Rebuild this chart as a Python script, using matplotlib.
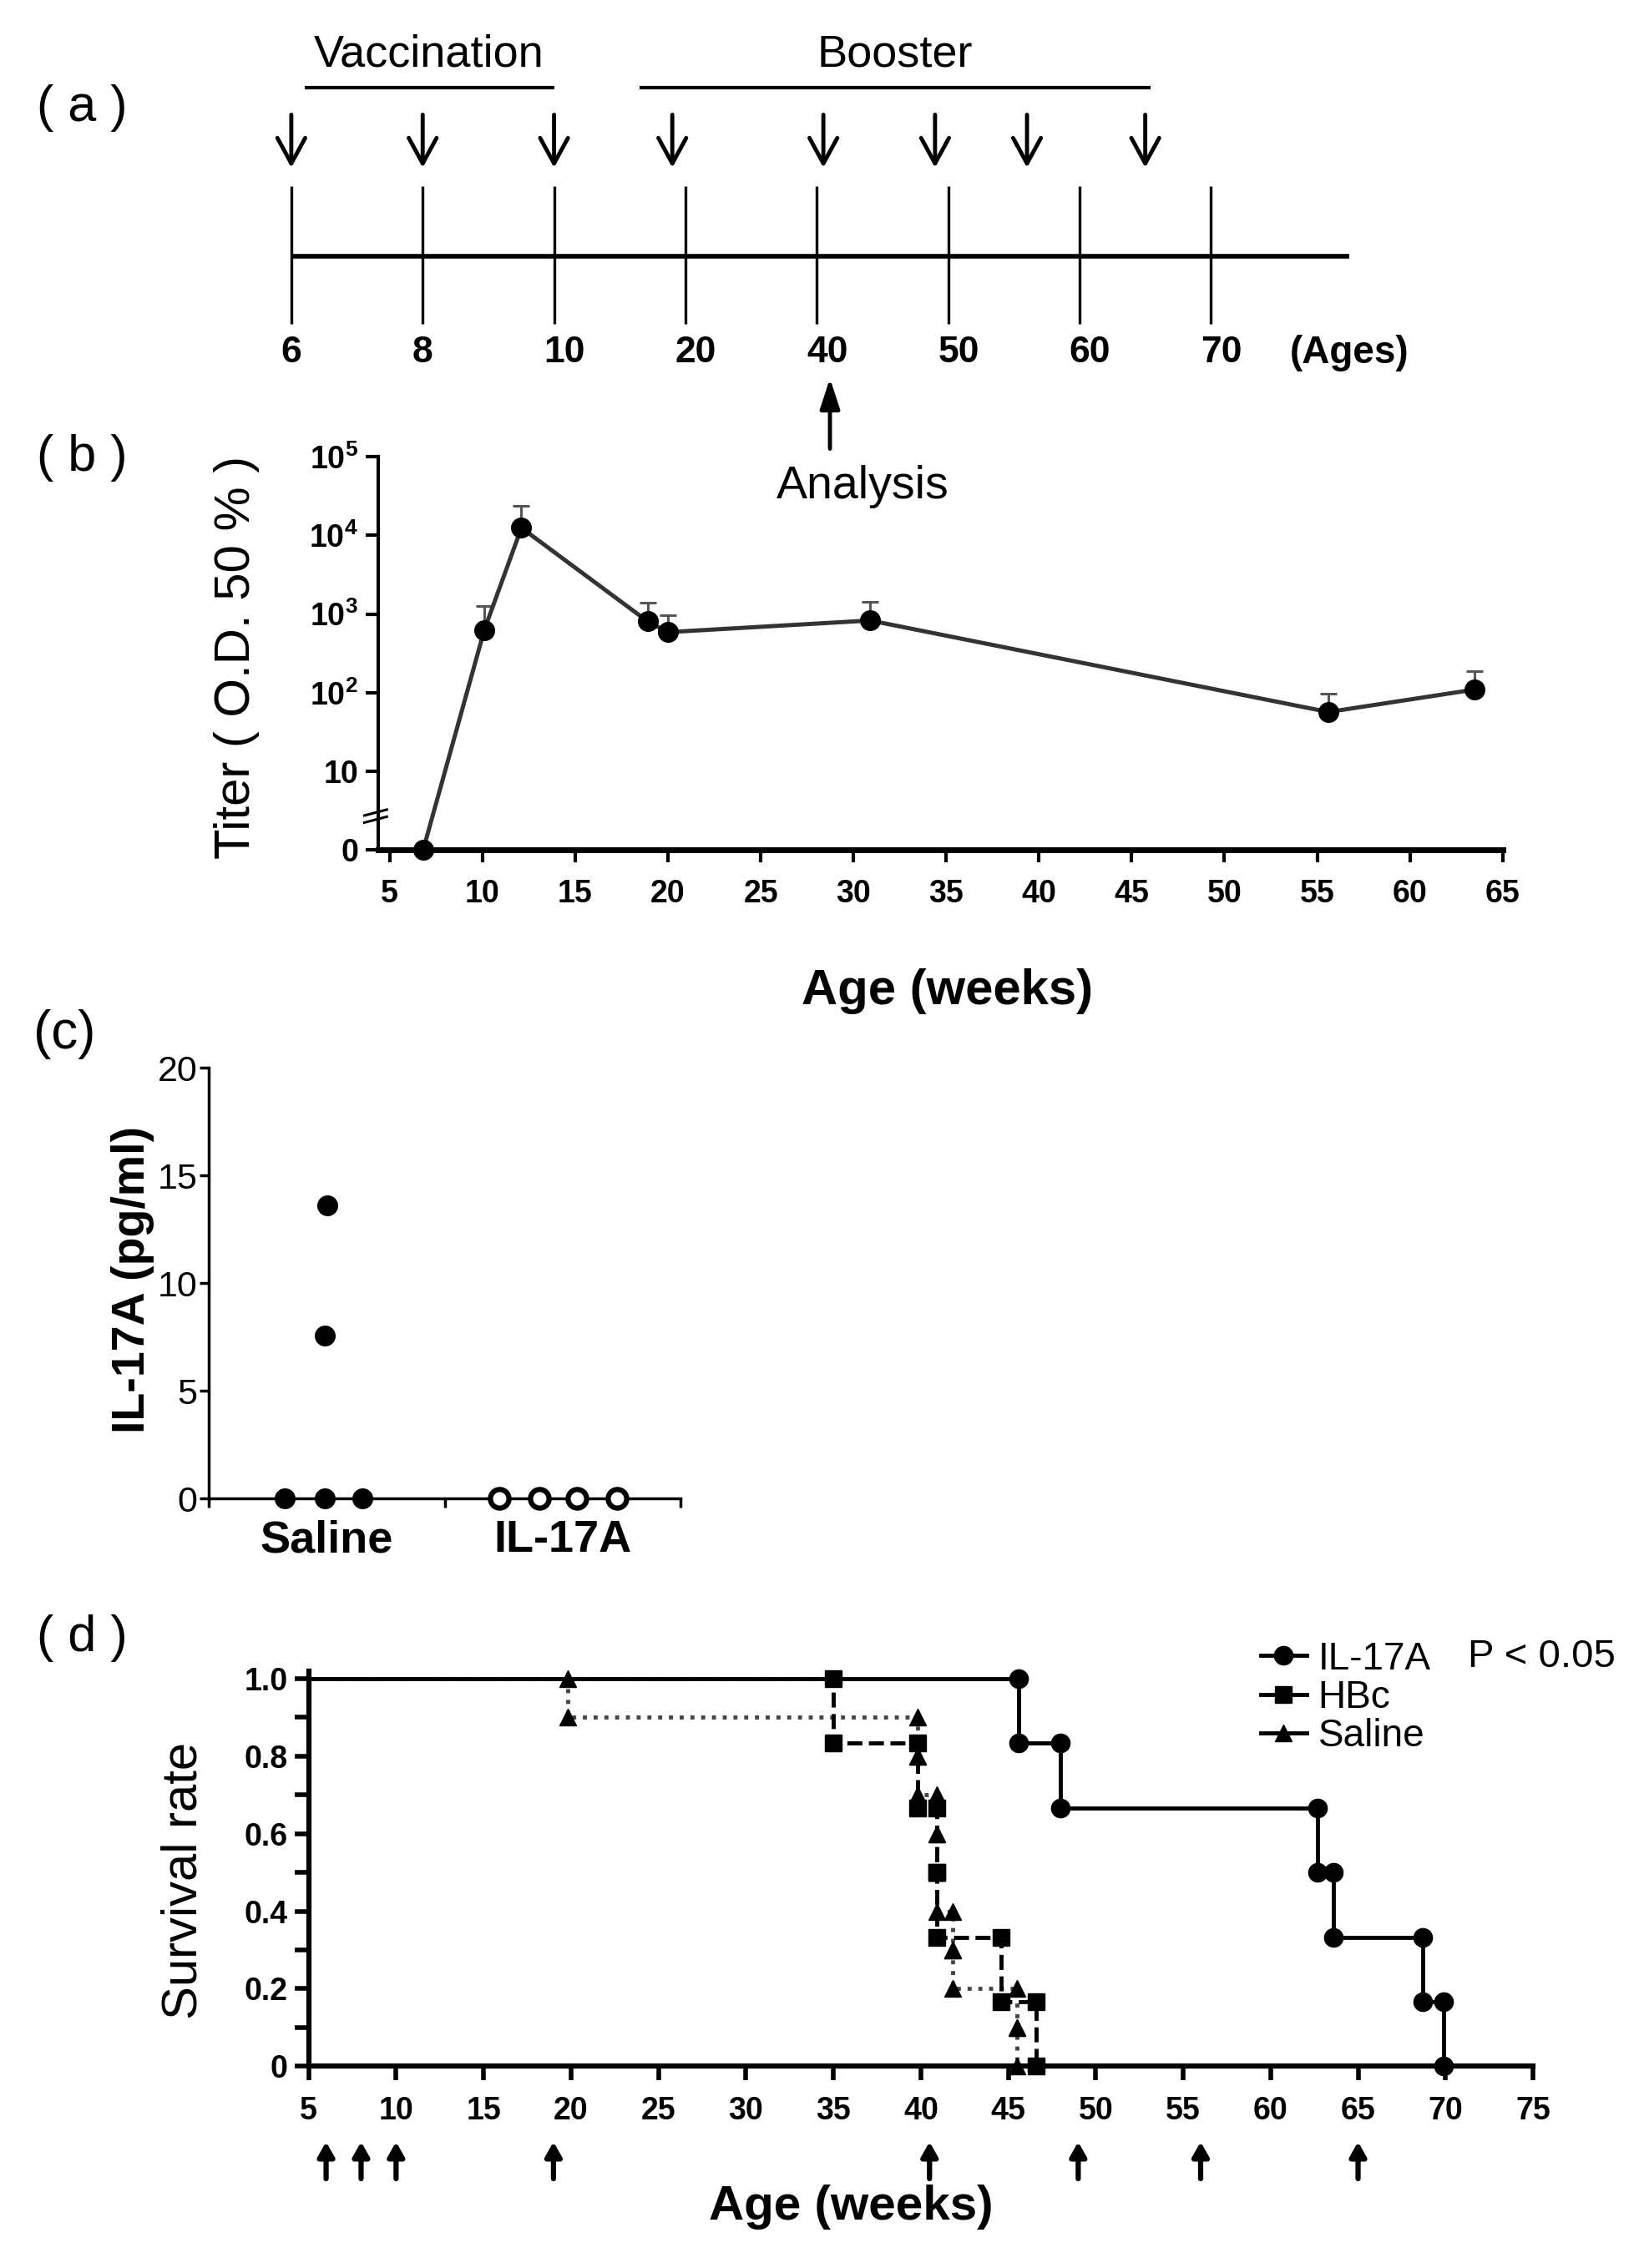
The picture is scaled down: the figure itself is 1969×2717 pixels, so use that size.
import numpy as np
import matplotlib.pyplot as plt
from matplotlib.lines import Line2D

plt.rcParams['font.family'] = ['Liberation Sans', 'DejaVu Sans']
plt.rcParams['mathtext.default'] = 'regular'

# (a) schedule (ages in weeks)
timeline_ages = [6, 8, 10, 20, 40, 50, 60, 70]
vaccination_ages = [6, 8, 10]
booster_ages = [19, 40.5, 49, 56, 65]
analysis_age = 41
vaccination_span = (6.2, 10)
booster_span = (16.5, 65.4)

# (b) antibody titer
titer_weeks = [6.8, 10.1, 12.1, 18.9, 20.0, 30.9, 55.6, 63.5]
titer_values = [1, 630, 12500, 810, 590, 830, 57, 110]
titer_upper = [1, 1260, 24000, 1400, 960, 1440, 98, 190]

# (c) IL-17A serum level
group_names = ['Saline', 'IL-17A']
saline_x = [0.32, 0.49, 0.65, 0.49, 0.50]
saline_y = [0, 0, 0, 7.55, 13.6]
il17_x = [1.23, 1.40, 1.56, 1.73]
il17_y = [0, 0, 0, 0]

# (d) survival, week of death for each mouse
death_il17a = [45.6, 48.0, 62.7, 63.6, 68.7, 69.9]
death_hbc = [35.0, 39.8, 40.9, 40.9, 44.6, 46.6]
death_saline = [19.8, 39.8, 39.8, 40.9, 40.9, 40.9, 41.8, 41.8, 45.5, 45.5]
treatment_weeks = [6, 8, 10, 19, 40.5, 49, 56, 65]

W, H = 1140.0, 1574.0  # layout measured on a reduced copy


def fbox(x0, y0, x1, y1):
    return [x0 / W, 1 - y1 / H, (x1 - x0) / W, (y1 - y0) / H]


def km_steps(deaths, start=5):
    n = len(deaths)
    xs, ys, mx, my = [start], [1.0], [], []
    alive = n
    for t in sorted(deaths):
        before = alive / n
        alive -= 1
        after = alive / n
        xs += [t, t]
        ys += [before, after]
        mx += [t, t]
        my += [before, after]
    return xs, ys, mx, my


fig = plt.figure(figsize=(19.69, 27.17), dpi=100)

for lab, x, y, fs in [('( a )', 57, 75, 44), ('( b )', 57, 318, 44),
                      ('(c)', 45, 718, 46), ('( d )', 57, 1137, 44)]:
    fig.text(x / W, 1 - y / H, lab, fontsize=fs, ha='center', va='center')

# ---------------- (a) ----------------
axa = fig.add_axes([0, 1 - 360 / H, 1, 360 / H])
axa.set_xlim(-202 / 91.1, (W - 202) / 91.1)
axa.set_ylim(360, 0)
axa.axis('off')
axa.set_zorder(5)
idx = np.arange(len(timeline_ages))


def pos(age):
    return np.interp(age, timeline_ages, idx)


axa.hlines(178, 0, len(timeline_ages) + 0.05, color='k', lw=4)
axa.vlines(idx, 129, 225, color='k', lw=2.4)
for i, a in zip(idx, timeline_ages):
    axa.text(i + (0.08 if a >= 10 else 0), 245, str(a), fontsize=32, fontweight='bold',
             ha='center', va='center')
axa.text(7.6, 245, '(Ages)', fontsize=33, fontweight='bold', ha='left', va='center')

for span, name in [(vaccination_span, 'Vaccination'), (booster_span, 'Booster')]:
    p0, p1 = pos(span[0]), pos(span[1])
    axa.hlines(61, p0, p1, color='k', lw=3)
    axa.text((p0 + p1) / 2, 38, name, fontsize=39, ha='center', va='center')

for a in vaccination_ages + booster_ages:
    axa.annotate('', xy=(pos(a), 118), xytext=(pos(a), 78),
                 arrowprops=dict(arrowstyle='->,head_length=0.55,head_width=0.3',
                                 lw=3.5, color='k', mutation_scale=40))
axa.annotate('', xy=(pos(analysis_age), 261), xytext=(pos(analysis_age), 313),
             arrowprops=dict(arrowstyle='-|>,head_length=0.55,head_width=0.18',
                             lw=3.5, color='k', mutation_scale=40))
axa.text(pos(analysis_age) + 0.25, 338, 'Analysis', fontsize=40, ha='center', va='center')

# ---------------- (b) ----------------
axb = fig.add_axes(fbox(262, 317, 1042, 590))
axb.set_facecolor('none')
axb.set_yscale('log')
axb.set_xlim(4.36, 65)
axb.set_ylim(1, 1e5)
yerr = np.array(titer_upper) - np.array(titer_values)
axb.errorbar(titer_weeks, titer_values, yerr=[np.zeros_like(yerr), yerr], fmt='none',
             ecolor='#555555', elinewidth=2.2, capsize=7, capthick=2.2, clip_on=False)
axb.plot(titer_weeks, titer_values, color='#333333', lw=3.6, marker='o', ms=17,
         mfc='k', mec='k', clip_on=False, zorder=3)
for s in ['top', 'right']:
    axb.spines[s].set_visible(False)
axb.spines['left'].set_linewidth(3)
axb.spines['bottom'].set_linewidth(5)
axb.set_xticks(np.arange(5, 66, 5))
axb.set_yticks([1, 10, 100, 1e3, 1e4, 1e5])
axb.set_yticklabels(['0', '10', '$10^2$', '$10^3$', '$10^4$', '$10^5$'])
axb.yaxis.set_minor_locator(plt.NullLocator())
axb.tick_params(axis='x', direction='out', length=11, width=3, pad=14, labelsize=27)
axb.tick_params(axis='y', direction='out', length=11, width=3, pad=6, labelsize=27)
for t in axb.get_xticklabels() + axb.get_yticklabels():
    t.set_fontweight('bold')
axb.set_ylabel('Titer ( O.D. 50 % )', fontsize=43)
axb.yaxis.set_label_coords(-0.105, 0.49)
axb.set_xlabel('Age (weeks)', fontsize=43, fontweight='bold')
axb.xaxis.set_label_coords(0.506, -0.3)
for dy in (0.0, 0.018):
    axb.plot([-0.012, 0.008], [0.07 + dy, 0.085 + dy], transform=axb.transAxes,
             color='k', lw=2.2, clip_on=False)

# ---------------- (c) ----------------
axc = fig.add_axes(fbox(145, 741, 472, 1040))
axc.set_facecolor('none')
axc.set_xlim(0, 2)
axc.set_ylim(0, 20)
axc.plot(saline_x, saline_y, 'o', color='k', ms=17, clip_on=False, zorder=3)
axc.plot(il17_x, il17_y, 'o', mfc='white', mec='k', mew=4.5, ms=16, clip_on=False, zorder=3)
for s in ['top', 'right']:
    axc.spines[s].set_visible(False)
for s in ['left', 'bottom']:
    axc.spines[s].set_linewidth(2.5)
axc.set_yticks([0, 5, 10, 15, 20])
axc.set_xticks([0.5, 1.5])
axc.set_xticklabels(group_names, fontsize=39, fontweight='bold')
axc.set_xticks([0, 1, 2], minor=True)
axc.tick_params(axis='x', which='major', length=0, pad=18)
axc.tick_params(axis='x', which='minor', direction='out', length=8, width=2.5)
axc.tick_params(axis='y', direction='out', length=8, width=2.5, pad=2, labelsize=31)
axc.set_ylabel('IL-17A (pg/ml)', fontsize=40, fontweight='bold')
axc.yaxis.set_label_coords(-0.115, 0.508)

# ---------------- (d) ----------------
axd = fig.add_axes(fbox(214, 1159.6, 1063, 1434))
axd.set_facecolor('none')
axd.set_xlim(5, 75)
axd.set_ylim(0, 1.02)
groups = [('IL-17A', death_il17a, '-', 'o', 16, 'k'),
          ('HBc', death_hbc, '--', 's', 14, 'k'),
          ('Saline', death_saline, ':', '^', 14, '#444444')]
handles = []
for name, deaths, ls, mk, ms, col in groups[::-1]:
    xs, ys, mx, my = km_steps(deaths)
    axd.plot(xs, ys, ls=ls, color=col, lw=3.5, clip_on=False)
    axd.plot(mx, my, mk, color='k', ms=ms, clip_on=False, zorder=4)
for name, deaths, ls, mk, ms, col in groups:
    handles.append(Line2D([], [], color='k', lw=3.5, marker=mk, ms=ms))
leg = axd.legend(handles, [g[0] for g in groups], loc='upper left',
                 bbox_to_anchor=(0.765, 1.115), frameon=False, fontsize=33,
                 handlelength=1.2, handletextpad=0.3, labelspacing=0.05, borderaxespad=0)
axd.text(0.947, 1.035, 'P < 0.05', transform=axd.transAxes, fontsize=34,
         ha='left', va='center')
for s in ['top', 'right']:
    axd.spines[s].set_visible(False)
for s in ['left', 'bottom']:
    axd.spines[s].set_linewidth(4.5)
axd.set_xticks(np.arange(5, 76, 5))
axd.set_yticks([0, 0.2, 0.4, 0.6, 0.8, 1.0])
axd.set_yticklabels(['0', '0.2', '0.4', '0.6', '0.8', '1.0'])
axd.set_yticks(np.arange(0.1, 1.0, 0.2), minor=True)
axd.tick_params(axis='both', which='both', direction='out', length=12, width=4)
axd.tick_params(axis='x', pad=14, labelsize=27)
axd.tick_params(axis='y', pad=6, labelsize=27)
for t in axd.get_xticklabels() + axd.get_yticklabels():
    t.set_fontweight('bold')
axd.set_ylabel('Survival rate', fontsize=43)
axd.yaxis.set_label_coords(-0.083, 0.47)
axd.set_xlabel('Age (weeks)', fontsize=42, fontweight='bold')
axd.xaxis.set_label_coords(0.443, -0.3)
for w in treatment_weeks:
    axd.annotate('', xy=(w, -0.195), xytext=(w, -0.29),
                 arrowprops=dict(arrowstyle='-|>,head_length=0.3,head_width=0.17',
                                 lw=4.5, color='k', mutation_scale=34,
                                 shrinkA=0, shrinkB=0),
                 annotation_clip=False)

fig.savefig('out.png', dpi=100)
